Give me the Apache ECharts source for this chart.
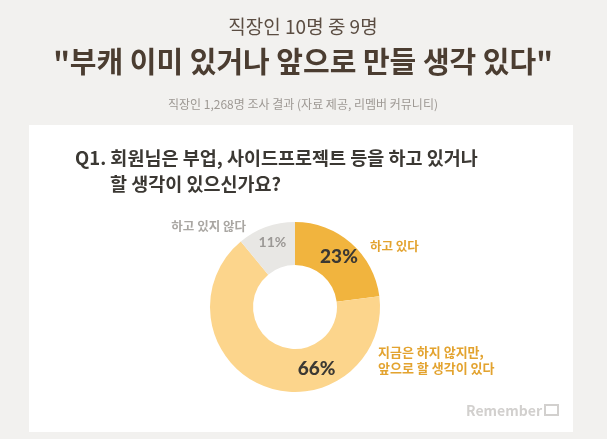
<!DOCTYPE html>
<html><head><meta charset="utf-8">
<script src="https://cdn.jsdelivr.net/npm/echarts@6/dist/echarts.min.js"></script>
<style>html,body{margin:0;padding:0;background:#f2f1ef;}#c{width:607px;height:439px;}</style>
</head><body><div id="c"></div>
<script>
const categories = ['하고 있다', '지금은 하지 않지만,\n앞으로 할 생각이 있다', '하고 있지 않다'];
const values = [23, 66, 11];
const colors = ['#f1b43e', '#fcd58c', '#e8e7e4'];
const pctColors = ['#3b3833', '#3b3833', '#9b9895'];
const nameColors = ['#e3a32f', '#e3a32f', '#a9a6a2'];
const titleTop = '직장인 10명 중 9명';
const titleMain = '"부캐 이미 있거나 앞으로 만들 생각 있다"';
const subtitle = '직장인 1,268명 조사 결과 (자료 제공, 리멤버 커뮤니티)';
const question1 = 'Q1. 회원님은 부업, 사이드프로젝트 등을 하고 있거나';
const question2 = '할 생각이 있으신가요?';
const brand = 'Remember';

const F = '"Noto Sans CJK KR", "Noto Sans", sans-serif';
const chart = echarts.init(document.getElementById('c'));
const namePos = [[370, 246, 'left'], [378, 360, 'left'], [246, 226, 'right']];
const offsets = [[0, 0], [46, 0], [0, -2]];
chart.setOption({
  backgroundColor: '#f2f1ef',
  animation: false,
  graphic: [
    {type: 'rect', shape: {x: 29, y: 125, width: 544, height: 307}, style: {fill: '#ffffff'}, z: -1},
    {type: 'text', x: 303, y: 27, style: {text: titleTop, font: '400 19px ' + F, fill: '#5b4d42', textAlign: 'center', textVerticalAlign: 'middle'}},
    {type: 'text', x: 303, y: 62, style: {text: titleMain, font: '700 29px ' + F, fill: '#4b3d31', textAlign: 'center', textVerticalAlign: 'middle'}},
    {type: 'text', x: 303, y: 104, style: {text: subtitle, font: '400 12px ' + F, fill: '#9d9893', textAlign: 'center', textVerticalAlign: 'middle'}},
    {type: 'text', x: 75, y: 158, style: {text: question1, font: '700 18.5px ' + F, fill: '#3b3833', textAlign: 'left', textVerticalAlign: 'middle'}},
    {type: 'text', x: 110, y: 184, style: {text: question2, font: '700 18.5px ' + F, fill: '#3b3833', textAlign: 'left', textVerticalAlign: 'middle'}},
    {type: 'text', x: 542, y: 411, style: {text: brand, font: '700 14px ' + F, fill: '#d2d0ce', textAlign: 'right', textVerticalAlign: 'middle'}},
    {type: 'rect', shape: {x: 545, y: 405, width: 13, height: 10}, style: {fill: 'none', stroke: '#d2d0ce', lineWidth: 2}},
  ].concat(categories.map((c, i) => ({
    type: 'text', x: namePos[i][0], y: namePos[i][1],
    style: {text: c, font: '700 ' + (i === 1 ? 13 : 12.5) + 'px ' + F, fill: nameColors[i], textAlign: namePos[i][2], textVerticalAlign: 'middle', lineHeight: 16}
  }))),
  series: [{
    type: 'pie',
    center: [295, 307],
    radius: [42, 85],
    startAngle: 90,
    clockwise: true,
    silent: true,
    labelLine: {show: false},
    data: values.map((v, i) => ({
      value: v, name: categories[i],
      itemStyle: {color: colors[i]},
      label: {show: true, position: 'inside', formatter: v + '%', color: pctColors[i],
        fontFamily: 'Lato, ' + F, fontWeight: i === 2 ? 700 : 900, fontSize: i === 2 ? 14 : 19,
        offset: offsets[i]}
    }))
  }]
});
</script></body></html>
